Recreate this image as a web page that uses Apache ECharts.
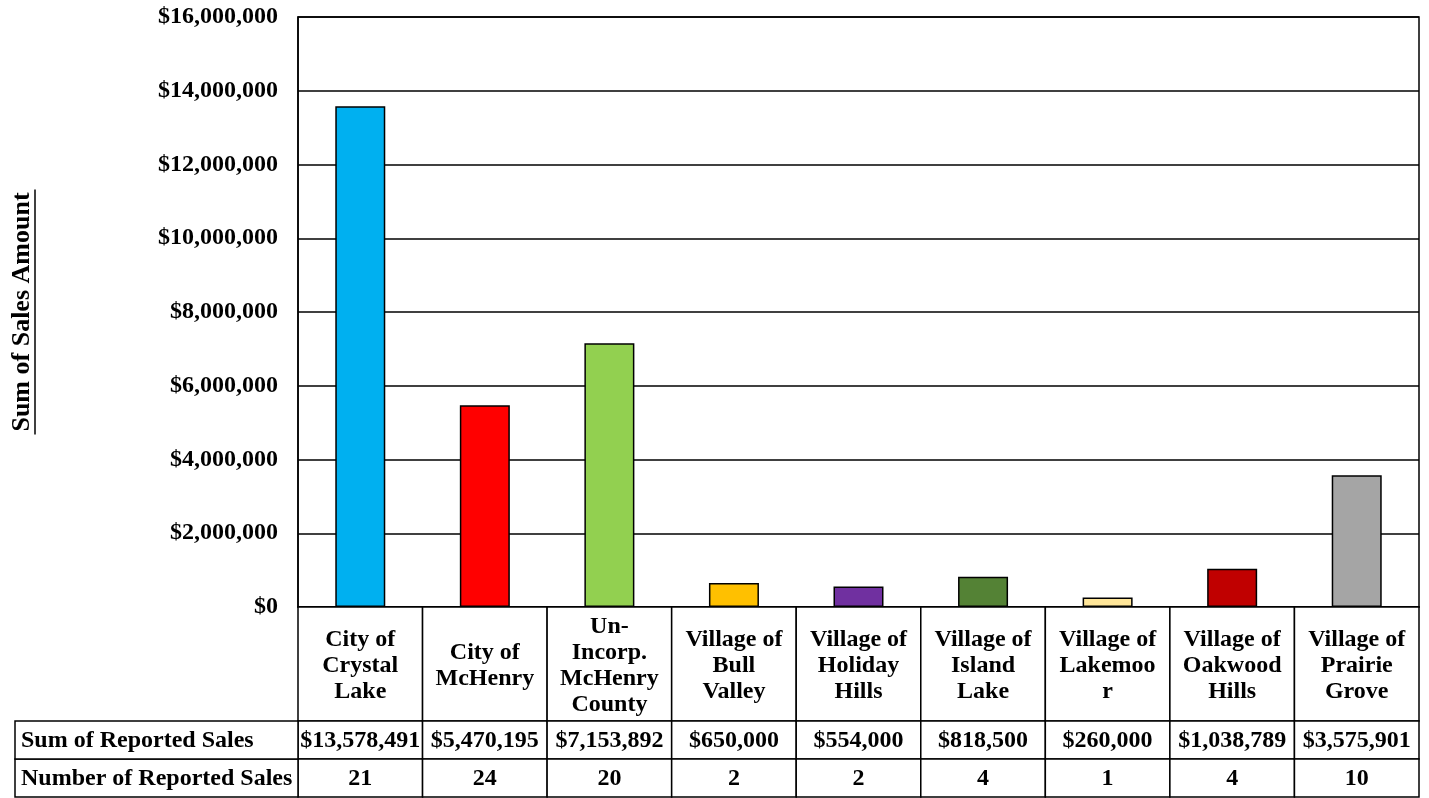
<!DOCTYPE html>
<html>
<head>
<meta charset="utf-8">
<script src="https://cdn.jsdelivr.net/npm/echarts@6/dist/echarts.min.js"></script>
<style>
  html, body { margin: 0; padding: 0; background: #fff; }
  #chart { width: 1429px; height: 798px; }
</style>
</head>
<body>
<div id="chart"></div>
<script>
var categories = ['City of Crystal Lake', 'City of McHenry', 'Un-Incorp. McHenry County',
  'Village of Bull Valley', 'Village of Holiday Hills', 'Village of Island Lake',
  'Village of Lakemoor', 'Village of Oakwood Hills', 'Village of Prairie Grove'];
// wrapped the way the table cells show them
var categoryLabels = ['City of\nCrystal\nLake', 'City of\nMcHenry', 'Un-\nIncorp.\nMcHenry\nCounty',
  'Village of\nBull\nValley', 'Village of\nHoliday\nHills', 'Village of\nIsland\nLake',
  'Village of\nLakemoo\nr', 'Village of\nOakwood\nHills', 'Village of\nPrairie\nGrove'];
var salesSum = [13578491, 5470195, 7153892, 650000, 554000, 818500, 260000, 1038789, 3575901];
var salesCount = [21, 24, 20, 2, 2, 4, 1, 4, 10];
var barColors = ['#00B0F0', '#FF0000', '#92D050', '#FFC000', '#7030A0', '#548235', '#FFE699', '#C00000', '#A5A5A5'];
var rowHeaders = ['Number of Reported Sales', 'Sum of Reported Sales'];
var yTicks = { min: 0, max: 16000000, interval: 2000000 };

var FONT = '"Liberation Serif", "Times New Roman", serif';
var fontStr = 'bold 24px ' + FONT;

function money(v) {
  return '$' + v.toLocaleString('en-US');
}

var myChart = echarts.init(document.getElementById('chart'));

function renderCells(params, api) {
  var i = params.dataIndex;
  var p0 = api.coord([i, 0]);
  var w = api.size([1, 0])[0];
  var x = p0[0] - w / 2;
  var y0 = p0[1];
  var y1 = api.coord([i, 1])[1];
  var y2 = api.coord([i, 2])[1];
  var y5 = api.coord([i, 5])[1];
  var cellStyle = { fill: '#fff', stroke: '#000', lineWidth: 1.5 };
  function txt(s, cy) {
    return {
      type: 'text',
      style: { text: s, x: p0[0], y: cy, align: 'center', verticalAlign: 'middle',
        font: fontStr, fill: '#000', lineHeight: 26 }
    };
  }
  return {
    type: 'group',
    children: [
      { type: 'rect', shape: { x: x, y: y5, width: w, height: y2 - y5 }, style: cellStyle },
      { type: 'rect', shape: { x: x, y: y2, width: w, height: y1 - y2 }, style: cellStyle },
      { type: 'rect', shape: { x: x, y: y1, width: w, height: y0 - y1 }, style: cellStyle },
      txt(categoryLabels[i], (y5 + y2) / 2 + 2),
      txt(money(salesSum[i]), (y2 + y1) / 2 + 1),
      txt(String(salesCount[i]), (y1 + y0) / 2 + 1)
    ]
  };
}

function renderHeader(params, api) {
  var r = params.dataIndex;
  var a = api.coord([0, r]);
  var b = api.coord([1, r + 1]);
  return {
    type: 'group',
    children: [
      { type: 'rect', shape: { x: a[0], y: b[1], width: b[0] - a[0], height: a[1] - b[1] },
        style: { fill: '#fff', stroke: '#000', lineWidth: 1.5 } },
      { type: 'text', style: { text: rowHeaders[r], x: a[0] + 6, y: (a[1] + b[1]) / 2 + 1,
        align: 'left', verticalAlign: 'middle', font: fontStr, fill: '#000' } }
    ]
  };
}

var option = {
  animation: false,
  backgroundColor: '#fff',
  grid: [
    { left: 298, right: 10, top: 17, bottom: 191, show: true, borderColor: '#000', borderWidth: 1.5 },
    { left: 298, right: 10, top: 607, bottom: 1 },
    { left: 15, width: 283, top: 721, bottom: 1 }
  ],
  xAxis: [
    { type: 'category', gridIndex: 0, data: categories,
      axisLabel: { show: false }, axisTick: { show: false },
      axisLine: { lineStyle: { color: '#000', width: 1.5 } } },
    { type: 'category', gridIndex: 1, data: categories, show: false },
    { type: 'value', gridIndex: 2, min: 0, max: 1, show: false }
  ],
  yAxis: [
    { type: 'value', gridIndex: 0, min: yTicks.min, max: yTicks.max, interval: yTicks.interval,
      name: '{t|Sum of Sales Amount}\n{u| }',
      nameLocation: 'middle', nameRotate: 90, nameGap: 262,
      nameTextStyle: {
        rich: {
          t: { fontFamily: FONT, fontWeight: 'bold', fontSize: 26, color: '#000', lineHeight: 24 },
          u: { backgroundColor: '#000', width: 245, height: 1.5, lineHeight: 2, fontSize: 1 }
        }
      },
      axisLine: { show: true, lineStyle: { color: '#000', width: 1.5 } },
      axisTick: { show: false },
      splitLine: { lineStyle: { color: '#000', width: 1.5 } },
      axisLabel: { formatter: money, fontFamily: FONT, fontWeight: 'bold', fontSize: 24,
        color: '#000', margin: 20 } },
    { type: 'value', gridIndex: 1, min: 0, max: 5, show: false },
    { type: 'value', gridIndex: 2, min: 0, max: 2, show: false }
  ],
  series: [
    {
      type: 'bar', xAxisIndex: 0, yAxisIndex: 0, barWidth: 50,
      data: salesSum.map(function (v, i) {
        return { value: v, itemStyle: { color: barColors[i] } };
      }),
      itemStyle: { borderColor: '#000', borderWidth: 1.5 }
    },
    {
      type: 'custom', xAxisIndex: 1, yAxisIndex: 1, renderItem: renderCells,
      data: categories.map(function (c, i) { return [i, 0]; })
    },
    {
      type: 'custom', xAxisIndex: 2, yAxisIndex: 2, renderItem: renderHeader,
      data: rowHeaders.map(function (h, r) { return [0, r]; })
    }
  ]
};
myChart.setOption(option);
</script>
</body>
</html>
